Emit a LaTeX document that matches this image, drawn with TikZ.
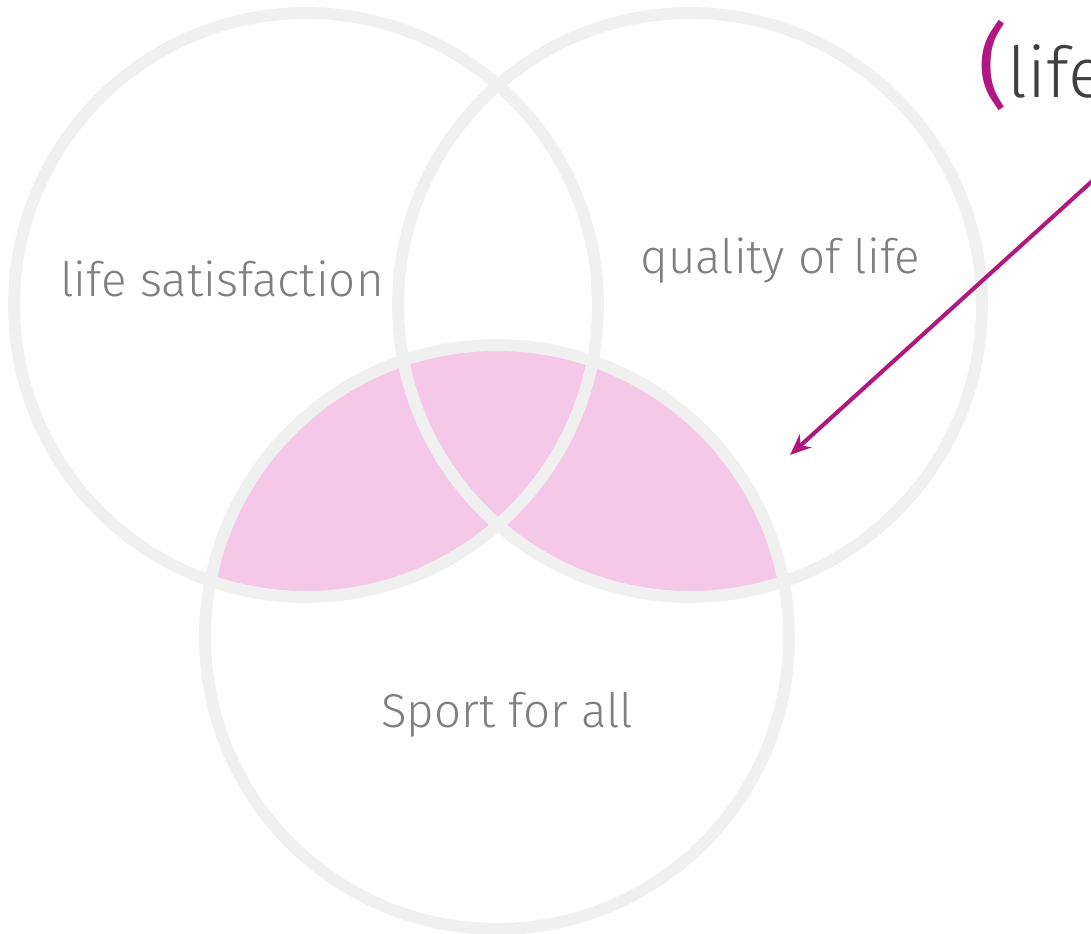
\documentclass[tikz,border=0pt]{standalone}
\usepackage{fontspec}
\setmainfont{Fira Sans Light}
\newfontfamily\parenfont{Fira Sans}
\usetikzlibrary{arrows.meta, positioning}
\definecolor{ringgray}{HTML}{F0F0F0}
\definecolor{lenspink}{HTML}{F5C8E7}
\definecolor{labelgray}{HTML}{7F7F7F}
\definecolor{titlegray}{HTML}{404040}
\definecolor{accent}{HTML}{B0177F}

\begin{document}
\begin{tikzpicture}[x=0.02cm, y=-0.02cm,
    set/.style = {circle, draw=ringgray, line width=6.8pt, minimum size=11.68cm, inner sep=0pt},
    setlabel/.style = {anchor=base west, inner sep=0pt, text=labelgray, font=\fontsize{27}{31}\selectfont},
    >=Stealth]
        \useasboundingbox (0,0) rectangle (1091,933);
        \coordinate (cl) at (306,305); % life satisfaction
        \coordinate (cr) at (690,305); % quality of life
        \coordinate (cb) at (497,637); % Sport for all
        \begin{scope}
            \clip (cb) circle (292);
            \fill[lenspink] (cl) circle (292) (cr) circle (292);
        \end{scope}
        \node[set] (ls) at (cl) {};
        \node[set] (ql) at (cr) {};
        \node[set] (sa) at (cb) {};
        \node[setlabel] (lslabel) at (60,296) {life satisfaction};
        \node[setlabel] (qllabel) at (640,273) {quality of life};
        \node[setlabel] (salabel) at (381,727) {Sport for all};
        \node[anchor=base west, inner sep=0pt, text=titlegray, font=\fontsize{40}{44}\selectfont] (title) at (978,97) {{\parenfont\color{accent}\fontsize{52}{52}\selectfont(}life};
        \coordinate (from) at (1100,174);
        \coordinate (to) at (790,455);
        \draw[accent, line width=2.3pt, -{Stealth[length=12pt, width=10pt]}] (from) -- (to);
    \end{tikzpicture}
\end{document}
